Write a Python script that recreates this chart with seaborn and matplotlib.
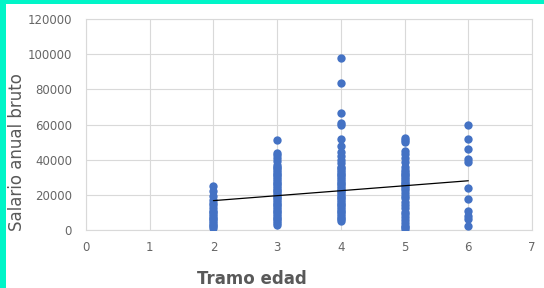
import matplotlib
matplotlib.use('Agg')
import matplotlib.pyplot as plt
import seaborn as sns
import pandas as pd
from matplotlib.patches import Rectangle

# salary values, one list per age band
tramo_2 = [25000, 22000, 19500, 17000, 15500, 14000, 12500, 11000, 10000, 9000,
           8000, 7000, 6000, 5000, 4000, 3000, 2000, 1000]
tramo_3 = [51000, 44000, 42500, 41000, 39000, 37000, 36000, 35000, 34000, 33000,
           32000, 31000, 30000, 29000, 28000, 27000, 26000, 25000, 24000, 23000,
           22000, 21000, 20000, 19000, 18000, 17000, 16000, 15000, 14000, 13000,
           12000, 11000, 10000, 9000, 8000, 7000, 6000, 5000, 4000, 3000]
tramo_4 = [98000, 83500, 66500, 61000, 60000, 52000, 48000, 44500, 42000, 40000,
           38000, 36000, 35000, 34000, 33000, 32000, 31000, 30000, 29000, 28000,
           27000, 26000, 25000, 24000, 23000, 22000, 21000, 20000, 19000, 18000,
           17000, 16000, 15000, 14000, 13000, 12000, 11000, 10000, 9000, 8000,
           7000, 6000, 5000]
tramo_5 = [52500, 51000, 50000, 45000, 43000, 41000, 38500, 36000, 34000, 33000,
           32000, 31000, 30000, 29000, 28000, 27000, 26000, 25000, 24000, 22500,
           21000, 19500, 18000, 16000, 14000, 12500, 10500, 9000, 7500, 5500,
           4000, 2500, 1500, 500]
tramo_6 = [59500, 51500, 46000, 40500, 38500, 24000, 17500, 11000, 8000, 6000, 2500]

# linear trendline endpoints (Excel style)
trend_x = [2, 6]
trend_y = [16700, 28000]

x_ticks = [0, 1, 2, 3, 4, 5, 6, 7]
y_ticks = [0, 20000, 40000, 60000, 80000, 100000, 120000]

rows = []
for tramo, vals in [(2, tramo_2), (3, tramo_3), (4, tramo_4), (5, tramo_5), (6, tramo_6)]:
    for v in vals:
        rows.append({'tramo': tramo, 'salario': v})
df = pd.DataFrame(rows)

sns.set_style('white')
plt.rcParams['font.family'] = ['DejaVu Sans']

fig = plt.figure(figsize=(5.44, 2.88), dpi=100)
ax = fig.add_axes([86 / 544, 1 - 230 / 288, 446 / 544, 211 / 288])

sns.scatterplot(data=df, x='tramo', y='salario', ax=ax, color='#4472C4',
                s=36, linewidth=0, zorder=3)
sns.lineplot(x=trend_x, y=trend_y, ax=ax, color='black', linewidth=0.9, zorder=4)

ax.set_xlim(0, 7)
ax.set_ylim(0, 120000)
ax.set_xticks(x_ticks)
ax.set_yticks(y_ticks)
ax.set_xticklabels([str(t) for t in x_ticks])
ax.set_yticklabels([str(t) for t in y_ticks])
ax.grid(True, color='#D9D9D9', linewidth=0.8)
ax.set_axisbelow(True)
for sp in ax.spines.values():
    sp.set_color('#D9D9D9')
    sp.set_linewidth(0.8)
ax.tick_params(axis='both', length=0, labelsize=8.5, colors='#666666')
ax.tick_params(axis='y', pad=10)
ax.tick_params(axis='x', pad=8)

ax.set_xlabel('Tramo edad', fontsize=12, fontweight='bold', color='#595959')
ax.xaxis.set_label_coords(0.372, -0.19)
ax.set_ylabel('Salario anual bruto', fontsize=12, color='#595959')
ax.yaxis.set_label_coords(-0.135, 0.37)

# turquoise frame on the top and left edges
fig.patches.append(Rectangle((0, 1 - 4 / 288), 1, 4 / 288, transform=fig.transFigure,
                             facecolor='#00F5C8', edgecolor='none', zorder=10))
fig.patches.append(Rectangle((0, 0), 6 / 544, 1, transform=fig.transFigure,
                             facecolor='#00F5C8', edgecolor='none', zorder=10))

fig.savefig('out.png', dpi=100)
plt.close(fig)
